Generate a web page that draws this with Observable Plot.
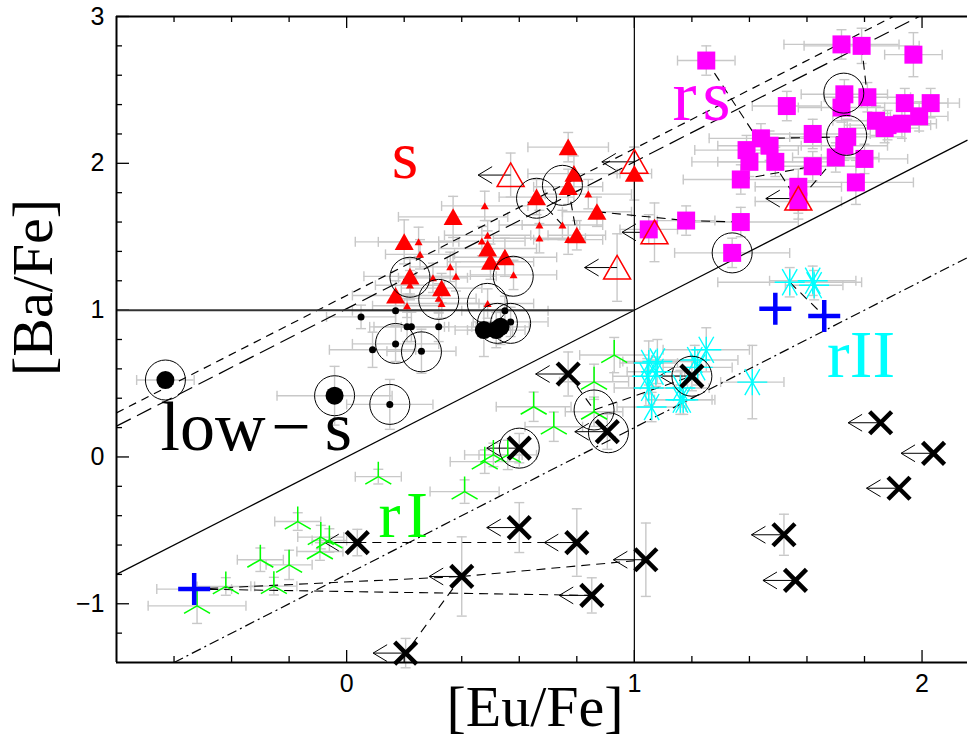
<!DOCTYPE html>
<html><head><meta charset="utf-8">
<script src="https://cdn.jsdelivr.net/npm/d3@7"></script>
<script src="https://cdn.jsdelivr.net/npm/@observablehq/plot@0.6"></script>
<style>
body{margin:0;background:#fff;}
#chart{width:968px;height:742px;overflow:hidden;}
g[aria-label="axis-title"] text{letter-spacing:5px;}
</style>
</head><body><div id="chart"></div>
<script>
// ---------------- DATA ----------------
// [x=[Eu/Fe], y=[Ba/Fe], xErr, yErr]
const triFilledBig = [
  [0.37,1.635,0.19,0.14],[0.20,1.465,0.17,0.15],[0.49,1.42,0.17,0.12],[0.50,1.33,0.15,0.12],
  [0.55,1.36,0.18,0.13],[0.22,1.23,0.16,0.12],[0.17,1.10,0.15,0.10],[0.33,1.15,0.14,0.10],
  [0.66,1.77,0.13,0.12],[0.77,2.11,0.14,0.10],[0.79,1.93,0.16,0.12],[0.77,1.84,0.12,0.12],
  [0.87,1.67,0.12,0.10],[0.80,1.51,0.10,0.10],[1.00,1.93,0.06,0.18]
];
const triFilledSmall = [
  [0.48,1.71,0.15,0.10],[0.25,1.465,0.14,0.10],[0.255,1.38,0.12,0.10],[0.58,1.24,0.15,0.10],
  [0.22,1.17,0.12,0.10],[0.36,1.295,0.14,0.10],[0.38,1.23,0.14,0.10],[0.21,1.03,0.12,0.08],
  [0.33,1.045,0.13,0.10],[0.32,1.08,0.13,0.10],[0.49,1.045,0.16,0.10],[0.67,1.58,0.14,0.10],
  [0.75,1.58,0.14,0.10],[0.67,1.49,0.16,0.10],[0.77,1.48,0.12,0.10],[0.84,1.79,0.15,0.10],
  [0.30,1.22,0.12,0.10],[0.49,1.51,0.15,0.10],[0.47,1.47,0.15,0.10]
];
// upper limits on Eu: [x, y, yErr]
const triOpen = [[0.57,1.92,0.15],[1.00,2.01,0.10],[0.94,1.29,0.23],[1.07,1.53,0.20],[1.57,1.76,0.10]];
const dotsSmall = [
  [0.05,0.954,0.12,0.08],[0.17,0.996,0.15,0.10],[0.21,0.886,0.13,0.10],[0.225,0.886,0.13,0.10],
  [0.32,0.886,0.13,0.10],[0.17,0.77,0.15,0.12],[0.09,0.73,0.15,0.12],[0.26,0.72,0.12,0.15],
  [0.55,0.995,0.15,0.10],[0.57,0.92,0.13,0.10],[0.15,0.358,0.15,0.17]
];
const dotsBig = [[0.477,0.864,0.10,0.18],[0.52,0.864,0.10,0.12],[0.535,0.886,0.10,0.12],[-0.63,0.524,0.10,0.05],[-0.042,0.417,0.20,0.20]];
const ringCenters = [
  [-0.63,0.524],[-0.042,0.417],[0.15,0.358],[0.17,0.773],[0.26,0.716],[0.22,1.224],[0.32,1.073],
  [0.489,1.046],[0.579,1.231],[0.524,0.91],[0.57,0.91],[0.66,1.762],[0.75,1.85],[1.34,1.39],
  [1.728,2.478],[1.738,2.19],[1.20,0.55],[0.86,0.32],[0.91,0.165],[0.60,0.06]
];
const squaresRS = [
  [1.25,2.70,0.10,0.10],[1.72,2.81,0.20,0.10],[1.79,2.80,0.20,0.12],[1.97,2.74,0.10,0.15],
  [1.53,2.39,0.12,0.10],[1.73,2.47,0.15,0.10],[1.72,2.38,0.15,0.10],[1.81,2.45,0.15,0.10],
  [1.62,2.20,0.20,0.10],[1.74,2.18,0.20,0.12],[1.73,2.12,0.15,0.10],[1.44,2.17,0.18,0.10],
  [1.47,2.12,0.18,0.10],[1.39,2.09,0.18,0.10],[1.40,2.01,0.20,0.10],[1.49,2.01,0.20,0.10],
  [1.62,1.98,0.15,0.10],[1.70,2.04,0.15,0.10],[1.80,2.03,0.15,0.10],[1.37,1.89,0.20,0.10],
  [1.77,1.87,0.20,0.15],[1.57,1.84,0.15,0.12],[1.57,1.74,0.15,0.12],[1.84,2.29,0.15,0.10],
  [1.88,2.26,0.15,0.10],[1.94,2.41,0.15,0.10],[2.03,2.41,0.10,0.10],[1.99,2.32,0.10,0.10],
  [1.93,2.27,0.12,0.10],[1.87,2.24,0.12,0.10],[1.18,1.61,0.10,0.10],[1.37,1.60,0.20,0.10],
  [1.34,1.39,0.20,0.10],[1.05,1.55,0.10,0.10]
];
const starsRII = [
  [1.54,1.19,0.25,0.10],[1.62,1.20,0.15,0.10],[1.625,1.17,0.10,0.10],[1.25,0.73,0.15,0.15],
  [1.41,0.51,0.11,0.25],[1.21,0.66,0.15,0.10],[1.17,0.39,0.10,0.10],[1.05,0.64,0.10,0.15],
  [1.08,0.65,0.12,0.15],[1.045,0.55,0.12,0.12],[1.075,0.58,0.10,0.10],[1.05,0.47,0.12,0.12],
  [1.06,0.34,0.12,0.10],[1.16,0.39,0.12,0.10],[1.16,0.47,0.10,0.12],[1.22,0.61,0.12,0.12]
];
const wyesRI = [
  [0.11,-0.134,0.08,0.05],[-0.17,-0.44,0.08,0.06],[-0.09,-0.546,0.08,0.08],[-0.06,-0.569,0.06,0.08],
  [-0.093,-0.644,0.08,0.06],[-0.30,-0.70,0.08,0.08],[-0.20,-0.735,0.08,0.10],[-0.253,-0.88,0.08,0.06],
  [-0.42,-0.882,0.10,0.06],[-0.52,-1.014,0.17,0.12],[0.48,-0.032,0.12,0.08],[0.41,-0.236,0.12,0.08],
  [0.56,0.014,0.10,0.10],[0.93,0.694,0.12,0.12],[0.86,0.512,0.12,0.12],[0.65,0.342,0.13,0.10],
  [0.72,0.206,0.10,0.10],[0.86,0.308,0.10,0.10],[0.51,0.014,0.10,0.08]
];
const plusBlue = [[-0.53,-0.90,0.13,0],[1.49,1.01,0,0],[1.66,0.96,0,0]];
// upper limits on Eu: [x, y, yErr]
const crossesUL = [
  [0.77,0.565,0.15],[0.906,0.172,0.12],[0.60,0.06,0.10],[1.20,0.551,0.10],[0.037,-0.583,0.09],
  [0.60,-0.481,0.17],[0.80,-0.583,0.23],[0.40,-0.814,0.27],[1.04,-0.70,0.25],[0.852,-0.943,0.12],
  [0.205,-1.336,0.10],[1.52,-0.53,0.14],[1.56,-0.841,0],[1.92,-0.213,0],[2.04,0.025,0],[1.856,0.233,0]
];
// same stars in different studies: [x1,y1,x2,y2]
const connectors = [
  [-0.53,-0.90,0.852,-0.943],[-0.53,-0.90,0.40,-0.814],[0.40,-0.814,1.04,-0.70],[0.40,-0.814,0.205,-1.336],
  [0.037,-0.583,0.80,-0.583],[0.77,0.565,0.86,0.32],[0.86,0.32,1.20,0.551],[1.54,1.19,1.66,0.96],
  [0.87,1.67,1.18,1.61],[1.18,1.61,1.37,1.60],[1.25,2.70,1.57,1.74],[1.79,2.80,1.81,2.45],
  [1.44,2.17,1.74,2.18],[1.70,2.04,1.57,1.74],[1.37,1.89,1.62,1.98],[0.77,1.84,0.80,1.51],[0.66,1.77,0.75,1.58]
];
// reference lines y = x + b
const diagIntercepts = [0, 1.10, 1.01, -0.80];
const diagDash = [null, "8,6", "16,7", "10,4,2,4"];
const xMajorTicks = [0, 1, 2];
const xMinorTicks = [-0.6,-0.4,-0.2,0.2,0.4,0.6,0.8,1.2,1.4,1.6,1.8];
const yMajorTicks = [-1, 0, 1, 2, 3];
const yMinorTicks = [-1.2,-0.8,-0.6,-0.4,-0.2,0.2,0.4,0.6,0.8,1.2,1.4,1.6,1.8,2.2,2.4,2.6,2.8];
const labelText = ["s", "r\u200as", "low\u200a\u2212\u2009s", "r\u200aI", "rII"];
const labelX = [0.157, 1.133, -0.647, 0.111, 1.67];
const labelY = [1.90, 2.293, 0.048, -0.544, 0.546];
const labelSize = [68, 72, 70, 66, 68];
const labelColor = ["#ff0000", "#ff00ff", "#000000", "#00ff00", "#00ffff"];
const xTitle = "[Eu/Fe]", yTitle = "[Ba/Fe]";

// ---------------- BUILD ----------------
const XMIN = -0.8, XMAX = 2.158, YMIN = -1.4, YMAX = 3;
const W = 968, H = 742, ML = 116, MR = 1, MT = 16, MB = 80;
const PW = W - ML - MR, PH = H - MT - MB;
const EB = "#c8c8c8", ARROW = 0.113;
const obj4 = a => ({x: a[0], y: a[1], ex: a[2] || 0, ey: a[3] || 0});
const obj3 = a => ({x: a[0], y: a[1], ex: 0, ey: a[2] || 0});

const tB = triFilledBig.map(obj4), tS = triFilledSmall.map(obj4), tO = triOpen.map(obj3);
const dS = dotsSmall.map(obj4), dB = dotsBig.map(obj4);
const sq = squaresRS.map(obj4), st = starsRII.map(obj4), wy = wyesRI.map(obj4);
const pl = plusBlue.map(obj4), cr = crossesUL.map(obj3);
const rings = ringCenters.map(a => ({x: a[0], y: a[1]}));
const allPts = [...tB, ...tS, ...tO, ...dS, ...dB, ...sq, ...st, ...wy, ...pl, ...cr];
const arrows = [...cr, ...tO];
const links = connectors.map(a => ({x1: a[0], y1: a[1], x2: a[2], y2: a[3]}));
const diags = diagIntercepts.map((b, i) => {
  const x1 = Math.max(XMIN, YMIN - b), x2 = Math.min(XMAX, YMAX - b);
  return {x1, y1: x1 + b, x2, y2: x2 + b, dash: diagDash[i]};
});
const labels = labelText.map((t, i) => ({t, x: labelX[i], y: labelY[i], c: labelColor[i], fs: labelSize[i]}));

const S = f => ({draw(ctx, size) { f(ctx, Math.sqrt(size / Math.PI)); }});
const triSym = S((c, r) => { c.moveTo(0, -0.9 * r); c.lineTo(r, 0.85 * r); c.lineTo(-r, 0.85 * r); c.closePath(); });
const sqSym = S((c, r) => { c.rect(-r, -r, 2 * r, 2 * r); });
const timesSym = S((c, r) => { c.moveTo(-r, -r); c.lineTo(r, r); c.moveTo(-r, r); c.lineTo(r, -r); });
const plusSym = S((c, r) => { c.moveTo(-r, 0); c.lineTo(r, 0); c.moveTo(0, -r); c.lineTo(0, r); });
const wyeSym = S((c, r) => { c.moveTo(0, 0); c.lineTo(0, -r); c.moveTo(0, 0); c.lineTo(0.866 * r, 0.5 * r); c.moveTo(0, 0); c.lineTo(-0.866 * r, 0.5 * r); });
const astSym = S((c, r) => { c.moveTo(-r, 0); c.lineTo(r, 0); c.moveTo(0, -0.87 * r); c.lineTo(0, 0.87 * r);
  c.moveTo(-0.5 * r, -0.87 * r); c.lineTo(0.5 * r, 0.87 * r); c.moveTo(0.5 * r, -0.87 * r); c.lineTo(-0.5 * r, 0.87 * r); });
const vSym = S((c, r) => { c.moveTo(0, -r); c.lineTo(0, r); });
const hSym = S((c, r) => { c.moveTo(-r, 0); c.lineTo(r, 0); });
const headSym = S((c, r) => { c.moveTo(r, -0.6 * r); c.lineTo(0, 0); c.lineTo(r, 0.6 * r); });

const exPts = allPts.filter(d => d.ex > 0), eyPts = allPts.filter(d => d.ey > 0);
const marks = [
  // error bars
  Plot.ruleY(exPts, {y: "y", x1: d => d.x - d.ex, x2: d => d.x + d.ex, stroke: EB, strokeWidth: 1.4}),
  Plot.ruleX(eyPts, {x: "x", y1: d => d.y - d.ey, y2: d => d.y + d.ey, stroke: EB, strokeWidth: 1.4}),
  Plot.dot(exPts.flatMap(d => [{x: d.x - d.ex, y: d.y}, {x: d.x + d.ex, y: d.y}]), {x: "x", y: "y", symbol: vSym, r: 5, stroke: EB, fill: "none", strokeWidth: 1.4}),
  Plot.dot(eyPts.flatMap(d => [{x: d.x, y: d.y - d.ey}, {x: d.x, y: d.y + d.ey}]), {x: "x", y: "y", symbol: hSym, r: 5, stroke: EB, fill: "none", strokeWidth: 1.4}),
  // ticks (inward)
  Plot.ruleX(xMinorTicks, {stroke: "black", strokeWidth: 1.3, insetTop: PH - 6}),
  Plot.ruleX(xMinorTicks, {stroke: "black", strokeWidth: 1.3, insetBottom: PH - 6}),
  Plot.ruleX(xMajorTicks, {stroke: "black", strokeWidth: 1.3, insetTop: PH - 12}),
  Plot.ruleX(xMajorTicks, {stroke: "black", strokeWidth: 1.3, insetBottom: PH - 12}),
  Plot.ruleY(yMinorTicks, {stroke: "black", strokeWidth: 1.3, insetRight: PW - 6}),
  Plot.ruleY(yMajorTicks, {stroke: "black", strokeWidth: 1.3, insetRight: PW - 13}),
  // reference lines
  ...diags.map(d => Plot.link([d], {x1: "x1", y1: "y1", x2: "x2", y2: "y2", stroke: "black", strokeWidth: 1.2, strokeDasharray: d.dash || undefined})),
  Plot.ruleY([1], {x1: XMIN, x2: 1, stroke: "#333", strokeWidth: 2}),
  Plot.ruleX([1], {stroke: "black", strokeWidth: 1.2}),
  // connectors
  Plot.link(links, {x1: "x1", y1: "y1", x2: "x2", y2: "y2", stroke: "black", strokeWidth: 1.1, strokeDasharray: "9,6"}),
  // upper-limit arrows
  Plot.link(arrows, {x1: "x", y1: "y", x2: d => d.x - ARROW, y2: "y", stroke: "black", strokeWidth: 1}),
  Plot.dot(arrows, {x: d => d.x - ARROW, y: "y", symbol: headSym, r: 14, stroke: "black", fill: "none", strokeWidth: 1}),
  // markers
  Plot.dot(sq, {x: "x", y: "y", symbol: sqSym, r: 9, fill: "#ff00ff", stroke: "none"}),
  Plot.dot(tO, {x: "x", y: "y", symbol: triSym, r: 13.5, fill: "none", stroke: "#ff0000", strokeWidth: 1.5}),
  Plot.dot(tB, {x: "x", y: "y", symbol: triSym, r: 9.5, fill: "#ff0000", stroke: "none"}),
  Plot.dot(tS, {x: "x", y: "y", symbol: triSym, r: 4, fill: "#ff0000", stroke: "none"}),
  Plot.dot(dS, {x: "x", y: "y", r: 3.5, fill: "black", stroke: "none"}),
  Plot.dot(dB, {x: "x", y: "y", r: 9, fill: "black", stroke: "none"}),
  Plot.dot(wy, {x: "x", y: "y", symbol: wyeSym, r: 15, fill: "none", stroke: "#00ff00", strokeWidth: 1.5}),
  Plot.dot(st, {x: "x", y: "y", symbol: astSym, r: 15, fill: "none", stroke: "#00ffff", strokeWidth: 1.4}),
  Plot.dot(pl, {x: "x", y: "y", symbol: plusSym, r: 16, fill: "none", stroke: "#0000ff", strokeWidth: 4.5}),
  Plot.dot(cr, {x: "x", y: "y", symbol: timesSym, r: 11, fill: "none", stroke: "black", strokeWidth: 4.5}),
  Plot.dot(rings, {x: "x", y: "y", r: 20, fill: "none", stroke: "black", strokeWidth: 1}),
  // group labels
  Plot.text(labels, {x: "x", y: "y", text: "t", fill: "c", fontSize: d => d.fs, fontFamily: "Liberation Serif", textAnchor: "start", lineAnchor: "bottom"}),
  // axis titles
  Plot.text([xTitle], {frameAnchor: "bottom", textAnchor: "middle", dx: -7, dy: 63, fontSize: 58, fontFamily: "Liberation Serif", lineAnchor: "bottom", ariaLabel: "axis-title"}),
  Plot.text([yTitle], {frameAnchor: "left", textAnchor: "middle", dx: -83, dy: -52, rotate: -90, fontSize: 58, fontFamily: "Liberation Serif", lineAnchor: "middle", ariaLabel: "axis-title"}),
  // frame
  Plot.ruleX([XMIN], {stroke: "black", strokeWidth: 2}),
  Plot.ruleY([YMIN, YMAX], {stroke: "black", strokeWidth: 2})
];

const fmt = d => (d < 0 ? "\u2212" : "") + Math.abs(d);
const chart = Plot.plot({
  width: W, height: H, marginLeft: ML, marginRight: MR, marginTop: MT, marginBottom: MB,
  x: {domain: [XMIN, XMAX], ticks: xMajorTicks, tickSize: 0, tickPadding: 12, label: null, tickFormat: fmt},
  y: {domain: [YMIN, YMAX], ticks: yMajorTicks, tickSize: 0, tickPadding: 12, label: null, tickFormat: fmt},
  style: {fontFamily: "Liberation Sans", fontSize: "25px", background: "white", color: "black"},
  marks
});
document.getElementById("chart").appendChild(chart);
</script></body></html>
